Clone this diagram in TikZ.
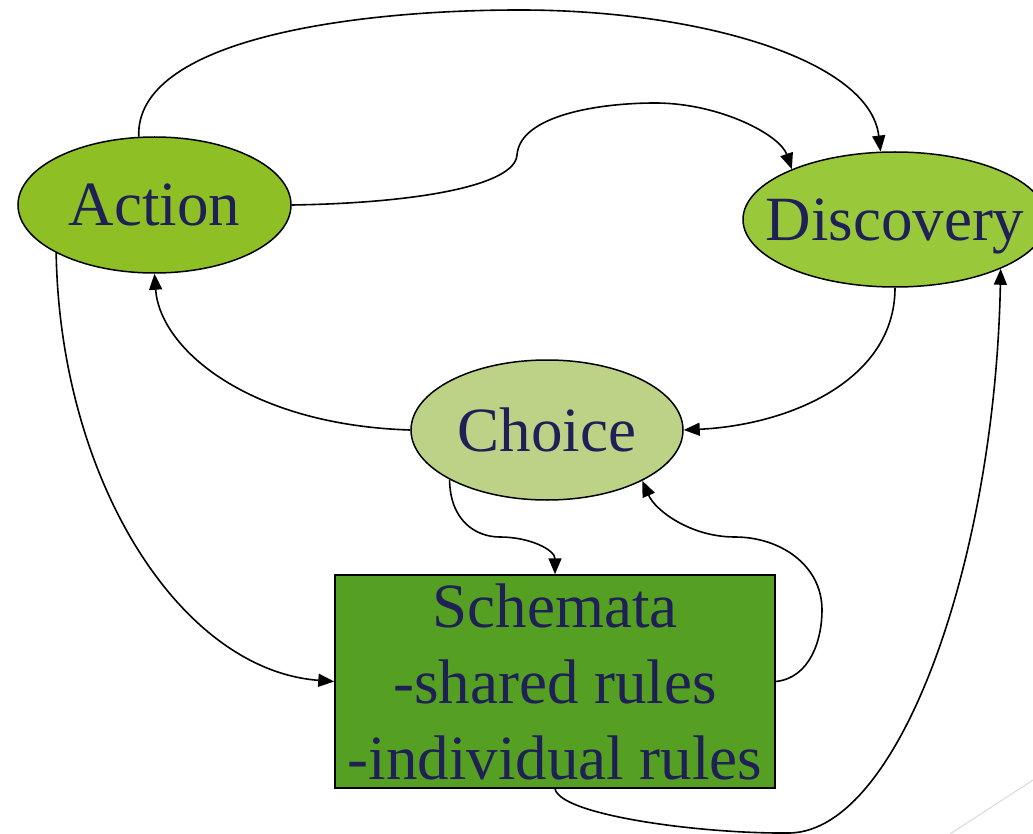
\documentclass[tikz,border=0pt]{standalone}
\usepackage{fontspec}
\setmainfont{Liberation Serif}
\usetikzlibrary{shapes.geometric,arrows.meta}
\definecolor{inkblue}{RGB}{31,33,86}
\definecolor{actfill}{RGB}{142,192,38}
\definecolor{disfill}{RGB}{153,201,58}
\definecolor{chofill}{RGB}{187,210,135}
\definecolor{schfill}{RGB}{85,159,34}
\tikzset{
  word/.style={text=inkblue, text depth=0pt, inner sep=0pt, font=\fontsize{63}{76}\selectfont},
  bubble/.style={ellipse, draw=black, line width=1.5pt, inner sep=0pt,
    label={[word]center:#1}},
  board/.style={rectangle, draw=black, line width=1.5pt, inner sep=0pt,
    text=inkblue, align=center, font=\fontsize{63}{76}\selectfont},
  link/.style={draw=black, line width=1.6pt, -{Triangle[length=16pt,width=13pt]}},
}
\begin{document}
\begin{tikzpicture}[x=1pt,y=-1pt]
\useasboundingbox (0,0) rectangle (1033,834);

% nodes
\node[bubble=Action, fill=actfill, minimum width=273pt, minimum height=136pt] (act) at (154.5,205) {};
\node[bubble=Discovery, fill=disfill, minimum width=304pt, minimum height=135pt] (dis) at (895,219.5) {};
\node[bubble=Choice, fill=chofill, minimum width=272pt, minimum height=140pt] (cho) at (547,430) {};
\node[board, fill=schfill, minimum width=440pt, minimum height=213pt] (sch) at (555,681.5)
  {Schemata\\-shared rules\\-individual rules};

% connectors
\draw[link] (act.103) .. controls (135,40) and (350,10) .. (520,10)
  .. controls (700,10) and (870,60) .. (dis.102);
\draw[link] (act.east) .. controls (420,203) and (515,185) .. (517,155)
  .. controls (520,115) and (600,103) .. (655,103)
  .. controls (720,103) and (780,135) .. (dis.154);
\draw[link] (act.206) .. controls (60,480) and (180,670) .. (sch.west);
\draw[link] (cho.west) .. controls (250,425) and (160,350) .. (act.south);
\draw[link] (dis.south) .. controls (895,380) and (790,425) .. (cho.east);
\draw[link] (cho.207) .. controls (450,520) and (475,537) .. (500,537)
  .. controls (530,537) and (555,550) .. (sch.north);
\draw[link] (sch.east) .. controls (810,678) and (822,640) .. (822,610)
  .. controls (822,565) and (780,537) .. (735,537)
  .. controls (690,537) and (655,510) .. (cho.-28);
\draw[link] (sch.south) .. controls (560,815) and (700,834) .. (790,833)
  .. controls (900,830) and (995,560) .. (dis.-25);

% faint corner stroke
\draw[gray!30, line width=1pt] (950,834) -- (1033,780);
\end{tikzpicture}
\end{document}
